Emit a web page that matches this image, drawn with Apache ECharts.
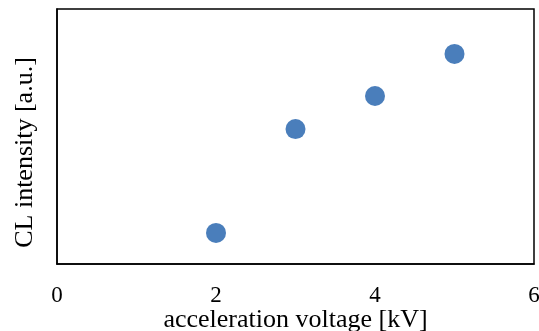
<!DOCTYPE html>
<html>
<head>
<meta charset="utf-8">
<script src="https://cdn.jsdelivr.net/npm/echarts@6/dist/echarts.min.js"></script>
<style>
  html, body { margin: 0; padding: 0; background: #fff; }
  #chart { width: 539px; height: 331px; }
</style>
</head>
<body>
<div id="chart"></div>
<script>
// 加速電圧 [kV] と CL 強度 (任意単位)
var voltage = [2, 3, 4, 5];
var intensity = [12.2, 52.9, 65.9, 82.4];
var xTicks = [0, 2, 4, 6];

var points = voltage.map(function (v, i) { return [v, intensity[i]]; });

var myChart = echarts.init(document.getElementById('chart'));
var font = '"Liberation Serif", "Times New Roman", serif';

myChart.setOption({
    animation: false,
    grid: { left: 57, right: 5, top: 9, bottom: 67, outerBoundsMode: 'none', containLabel: false },
    xAxis: {
        type: 'value',
        min: xTicks[0],
        max: xTicks[xTicks.length - 1],
        interval: 2,
        name: 'acceleration voltage [kV]',
        nameLocation: 'middle',
        nameGap: 43,
        nameMoveOverlap: false,
        nameTextStyle: { fontFamily: font, fontSize: 26, color: '#000' },
        axisLine: { show: true, lineStyle: { color: '#000', width: 1.5 } },
        axisTick: { show: false },
        axisLabel: { fontFamily: font, fontSize: 23, color: '#000', margin: 20, showMaxLabel: true },
        splitLine: { show: false }
    },
    yAxis: {
        type: 'value',
        min: 0,
        max: 100,
        name: 'CL intensity [a.u.]',
        nameLocation: 'middle',
        nameGap: 19,
        nameMoveOverlap: false,
        nameTextStyle: { fontFamily: font, fontSize: 26, color: '#000', padding: [0, 32, 0, 0] },
        axisLine: { show: true, lineStyle: { color: '#000', width: 1.5 } },
        axisTick: { show: false },
        axisLabel: { show: false },
        splitLine: { show: false }
    },
    series: [{
        type: 'scatter',
        data: points,
        symbolSize: 20,
        itemStyle: { color: '#4a7ebb', opacity: 1 }
    }]
});

// 枠線(上・右)
var tl = myChart.convertToPixel('grid', [0, 100]);
var br = myChart.convertToPixel('grid', [6, 0]);
myChart.setOption({
    graphic: [{
        type: 'rect',
        shape: { x: tl[0], y: tl[1], width: br[0] - tl[0], height: br[1] - tl[1] },
        style: { fill: 'none', stroke: '#000', lineWidth: 1.5 },
        z: 10
    }]
});
</script>
</body>
</html>
